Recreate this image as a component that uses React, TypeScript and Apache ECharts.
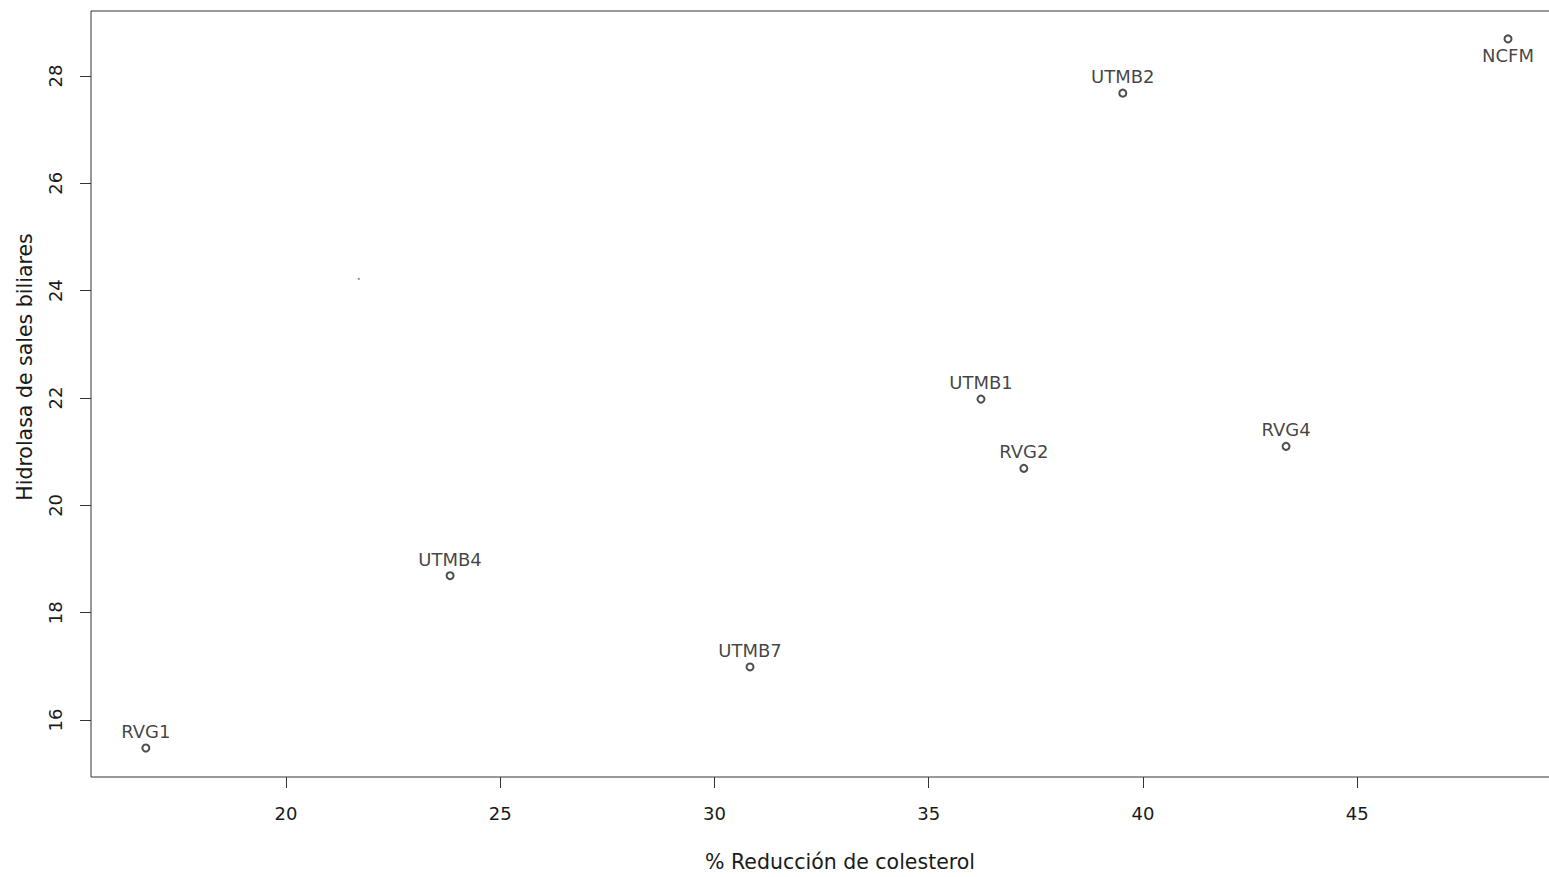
import React, { useEffect, useRef } from "react";
import * as echarts from "echarts";

const pointNames = ["RVG1", "UTMB4", "UTMB7", "UTMB1", "RVG2", "UTMB2", "RVG4", "NCFM"];
const reduccion = [16.73, 23.83, 30.83, 36.22, 37.22, 39.53, 43.34, 48.52];
const hidrolasa = [15.48, 18.69, 16.99, 21.98, 20.69, 27.68, 21.1, 28.69];
const labelBelow = ["NCFM"];
const strayX = [21.7];
const strayY = [24.22];
const xTicks = [20, 25, 30, 35, 40, 45];
const yTicks = [16, 18, 20, 22, 24, 26, 28];
const xTitle = "% Reducción de colesterol";
const yTitle = "Hidrolasa de sales biliares";

const FONT = "DejaVu Sans";
const INK = "#1a1a1a";

export default function App() {
  const ref = useRef<HTMLDivElement>(null);
  useEffect(() => {
    if (!ref.current) return;
    const chart = echarts.init(ref.current, null, { renderer: "svg" });
    const data = pointNames.map((n, i) => ({
      name: n,
      value: [reduccion[i], hidrolasa[i]],
      label: {
        position: labelBelow.includes(n) ? "bottom" : "top",
      },
    }));
    chart.setOption({
      animation: false,
      backgroundColor: "#fff",
      grid: {
        left: 91,
        top: 11,
        right: 0,
        bottom: 100,
        show: true,
        borderColor: "#333",
        borderWidth: 1,
        backgroundColor: "transparent",
      },
      xAxis: {
        type: "value",
        min: 15.45,
        max: 50.41,
        axisLine: { show: false },
        splitLine: { show: false },
        axisTick: {
          show: true,
          inside: false,
          length: 11,
          customValues: xTicks,
          lineStyle: { color: "#333", width: 1 },
        },
        axisLabel: {
          customValues: xTicks,
          margin: 27,
          color: INK,
          fontFamily: FONT,
          fontSize: 18,
        },
      },
      yAxis: {
        type: "value",
        min: 14.94,
        max: 29.21,
        axisLine: { show: false },
        splitLine: { show: false },
        axisTick: {
          show: true,
          inside: false,
          length: 11,
          customValues: yTicks,
          lineStyle: { color: "#333", width: 1 },
        },
        axisLabel: {
          customValues: yTicks,
          rotate: 90,
          margin: 27,
          color: INK,
          fontFamily: FONT,
          fontSize: 18,
        },
      },
      graphic: [
        {
          type: "text",
          x: 840,
          y: 862,
          style: {
            text: xTitle,
            fill: INK,
            font: `20.5px "${FONT}"`,
            textAlign: "center",
            textVerticalAlign: "middle",
          },
        },
        {
          type: "text",
          x: 25,
          y: 367,
          rotation: Math.PI / 2,
          style: {
            text: yTitle,
            fill: INK,
            font: `20.5px "${FONT}"`,
            textAlign: "center",
            textVerticalAlign: "middle",
          },
        },
      ],
      series: [
        {
          type: "scatter",
          symbol: "emptyCircle",
          symbolSize: 7,
          itemStyle: { color: "#222", borderColor: "#222", borderWidth: 1.1 },
          data,
          label: {
            show: true,
            formatter: "{b}",
            distance: 3,
            color: "#111",
            fontFamily: FONT,
            fontSize: 18,
          },
          emphasis: { disabled: true },
        },
        {
          type: "scatter",
          symbol: "rect",
          symbolSize: 2,
          itemStyle: { color: "#777" },
          data: strayX.map((x, i) => [x, strayY[i]]),
          emphasis: { disabled: true },
        },
      ],
    });
    return () => chart.dispose();
  }, []);
  return (
    <div
      ref={ref}
      style={{ position: "fixed", left: 0, top: 0, width: 1589, height: 877 }}
    />
  );
}
